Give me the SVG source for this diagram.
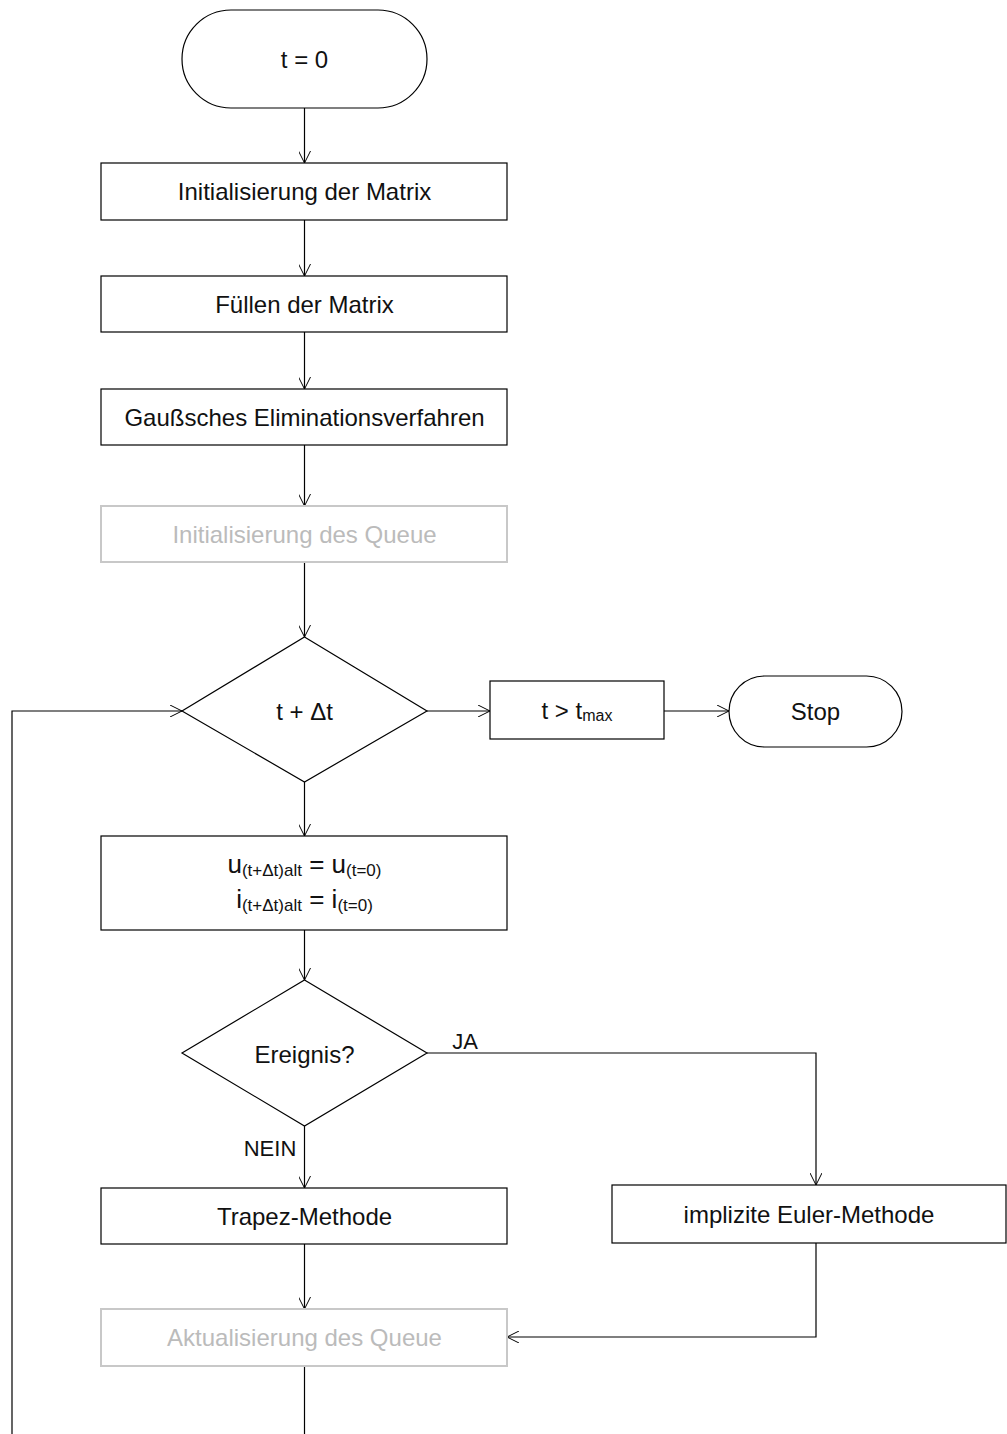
<svg xmlns="http://www.w3.org/2000/svg" width="1007" height="1434" viewBox="0 0 1007 1434">
<defs>
<marker id="arr" viewBox="0 0 12 12" refX="12" refY="6" markerWidth="12" markerHeight="12" markerUnits="userSpaceOnUse" orient="auto">
<path d="M0,0 L12,6 L0,12" fill="none" stroke="#000" stroke-width="1"/>
</marker>
</defs>
<style>
.n{fill:#fff;stroke:#000;stroke-width:1.2}
.g{fill:#fff;stroke:#c8c8c8;stroke-width:2}
.t{font-family:"Liberation Sans",Arial,sans-serif;font-size:24px;fill:#111;text-anchor:middle;dominant-baseline:central}
.tg{fill:#bbbbbb}
.s{font-size:16px}
.f{font-size:26px}
.fs{font-size:17px}
.c{fill:none;stroke:#000;stroke-width:1.2}
</style>
<g id="connectors">
<line class="c" x1="304.5" y1="108" x2="304.5" y2="163" marker-end="url(#arr)"/>
<line class="c" x1="304.5" y1="220" x2="304.5" y2="276" marker-end="url(#arr)"/>
<line class="c" x1="304.5" y1="332" x2="304.5" y2="389" marker-end="url(#arr)"/>
<line class="c" x1="304.5" y1="445" x2="304.5" y2="506" marker-end="url(#arr)"/>
<line class="c" x1="304.5" y1="562" x2="304.5" y2="637" marker-end="url(#arr)"/>
<line class="c" x1="427" y1="711" x2="490" y2="711" marker-end="url(#arr)"/>
<line class="c" x1="664" y1="711" x2="729" y2="711" marker-end="url(#arr)"/>
<line class="c" x1="304.5" y1="782" x2="304.5" y2="836" marker-end="url(#arr)"/>
<line class="c" x1="304.5" y1="930" x2="304.5" y2="980" marker-end="url(#arr)"/>
<polyline class="c" points="427,1053 816,1053 816,1185" marker-end="url(#arr)"/>
<line class="c" x1="304.5" y1="1126" x2="304.5" y2="1188" marker-end="url(#arr)"/>
<line class="c" x1="304.5" y1="1244" x2="304.5" y2="1309" marker-end="url(#arr)"/>
<polyline class="c" points="816,1243 816,1337 507,1337" marker-end="url(#arr)"/>
<line class="c" x1="304.5" y1="1366" x2="304.5" y2="1434"/>
<polyline class="c" points="12,1434 12,711 182,711" stroke="#666" marker-end="url(#arr)"/>
<text class="t" x="465" y="1041" style="font-size:22px">JA</text>
<text class="t" x="270" y="1148" style="font-size:22px">NEIN</text>
</g>
<g id="start"><rect class="n" x="182" y="10" width="245" height="98" rx="49"/><text class="t" x="304.5" y="59">t = 0</text></g>
<g id="init-matrix"><rect class="n" x="101" y="163" width="406" height="57"/><text class="t" x="304.5" y="191.5">Initialisierung der Matrix</text></g>
<g id="fill-matrix"><rect class="n" x="101" y="276" width="406" height="56"/><text class="t" x="304.5" y="304">Füllen der Matrix</text></g>
<g id="gauss"><rect class="n" x="101" y="389" width="406" height="56"/><text class="t" x="304.5" y="417">Gaußsches Eliminationsverfahren</text></g>
<g id="init-queue"><rect class="g" x="101" y="506" width="406" height="56"/><text class="t tg" x="304.5" y="534">Initialisierung des Queue</text></g>
<g id="step"><polygon class="n" points="304.5,637 427,711 304.5,782 182,711"/><text class="t" x="304.5" y="711">t + Δt</text></g>
<g id="tmax"><rect class="n" x="490" y="681" width="174" height="58"/><text class="t" x="577" y="710">t &gt; t<tspan class="s" dy="5">max</tspan></text></g>
<g id="stop"><rect class="n" x="729" y="676" width="173" height="71" rx="35.5"/><text class="t" x="815.5" y="711.5">Stop</text></g>
<g id="assign"><rect class="n" x="101" y="836" width="406" height="94"/>
<text class="t f" x="304.5" y="864">u<tspan class="fs" dy="6">(t+Δt)alt</tspan><tspan dy="-6"> = u</tspan><tspan class="fs" dy="6">(t=0)</tspan></text>
<text class="t f" x="304.5" y="899">i<tspan class="fs" dy="6">(t+Δt)alt</tspan><tspan dy="-6"> = i</tspan><tspan class="fs" dy="6">(t=0)</tspan></text></g>
<g id="event"><polygon class="n" points="304.5,980 427,1053 304.5,1126 182,1053"/><text class="t" x="304.5" y="1054">Ereignis?</text></g>
<g id="trapez"><rect class="n" x="101" y="1188" width="406" height="56"/><text class="t" x="304.5" y="1216">Trapez-Methode</text></g>
<g id="euler"><rect class="n" x="612" y="1185" width="394" height="58"/><text class="t" x="809" y="1214">implizite Euler-Methode</text></g>
<g id="update-queue"><rect class="g" x="101" y="1309" width="406" height="57"/><text class="t tg" x="304.5" y="1337.5">Aktualisierung des Queue</text></g>
</svg>
